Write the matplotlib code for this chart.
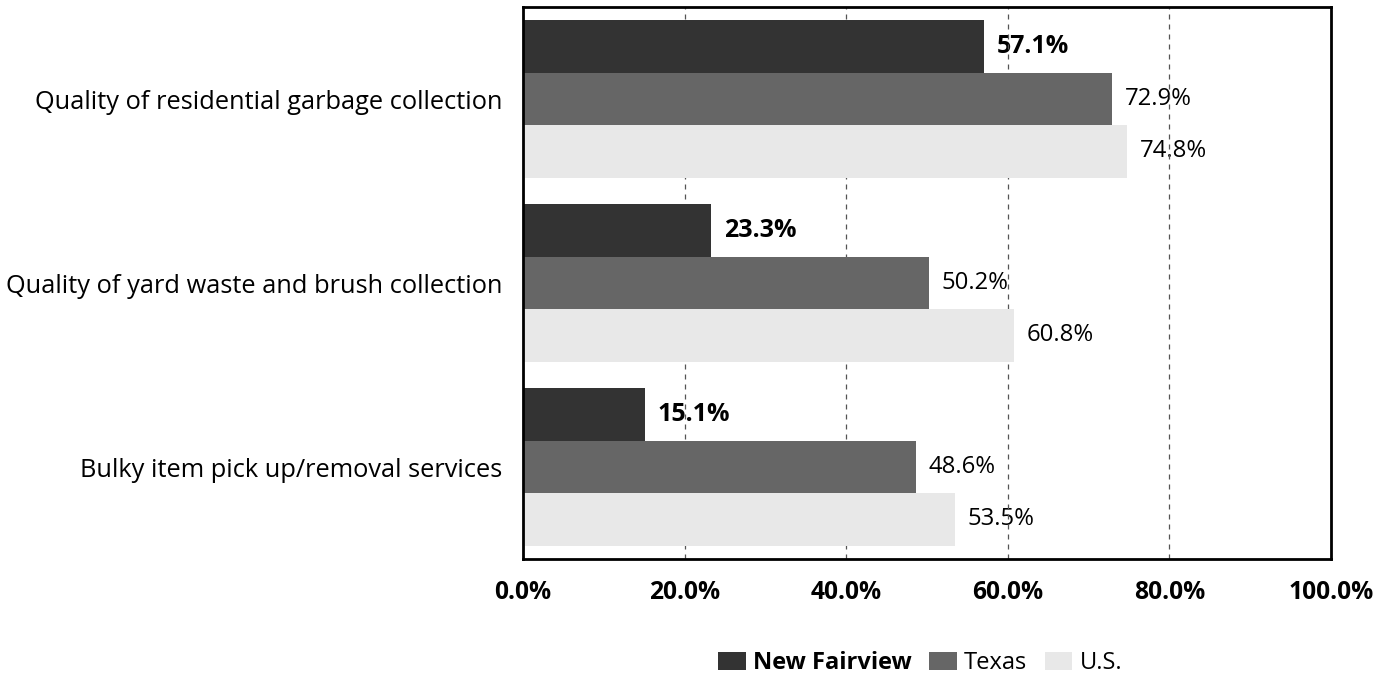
import matplotlib
matplotlib.use("Agg")
import matplotlib.pyplot as plt
import numpy as np
from matplotlib.ticker import FuncFormatter

categories = [
    "Quality of residential garbage collection",
    "Quality of yard waste and brush collection",
    "Bulky item pick up/removal services",
]
series_names = ["New Fairview", "Texas", "U.S."]
new_fairview = [57.1, 23.3, 15.1]
texas = [72.9, 50.2, 48.6]
us = [74.8, 60.8, 53.5]
x_ticks = [0, 20, 40, 60, 80, 100]

colors = ["#333333", "#666666", "#e8e8e8"]
plt.rcParams["font.family"] = ["Open Sans", "DejaVu Sans"]

fig = plt.figure(figsize=(13.92, 6.77), dpi=100)
ax = fig.add_axes([523 / 1392, 1 - 559 / 677, 808 / 1392, 552 / 677])

n = len(categories)
centers = np.arange(n)
bar_h = 0.285
series = [new_fairview, texas, us]
for i, (name, vals, col) in enumerate(zip(series_names, series, colors)):
    ypos = centers + (i - 1) * bar_h
    ax.barh(ypos, vals, height=bar_h, color=col, label=name, zorder=2)
    for y, v in zip(ypos, vals):
        bold = i == 0
        ax.annotate(f"{v:.1f}%", xy=(v, y), xytext=(9, 0), textcoords="offset points",
                    va="center", ha="left", fontsize=18 if bold else 17.2,
                    fontweight="bold" if bold else "normal",
                    color="black", zorder=0.5)

ax.set_xlim(0, 100)
ax.set_ylim(n - 0.5, -0.5)
ax.set_yticks(centers)
ax.set_yticklabels(categories, fontsize=18.3)
ax.set_xticks(x_ticks)
ax.xaxis.set_major_formatter(FuncFormatter(lambda v, p: f"{v:.1f}%"))
for lbl in ax.get_xticklabels():
    lbl.set_fontweight("bold")
    lbl.set_fontsize(17.7)
ax.tick_params(axis="both", length=0)
ax.tick_params(axis="x", pad=15)
ax.tick_params(axis="y", pad=15)
ax.grid(axis="x", linestyle=(0, (4, 4)), color="#555555", linewidth=0.9, zorder=1)
ax.set_axisbelow(True)
for s in ax.spines.values():
    s.set_linewidth(2)
    s.set_color("black")

handles, labels = ax.get_legend_handles_labels()
leg = fig.legend(handles, labels, loc="center", bbox_to_anchor=(920 / 1392, 1 - 663 / 677),
                 ncol=3, frameon=False, fontsize=17, handlelength=1.17, handleheight=0.8,
                 handletextpad=0.3, columnspacing=0.75)
leg.get_texts()[0].set_fontweight("bold")

fig.savefig("out.png", dpi=100)
